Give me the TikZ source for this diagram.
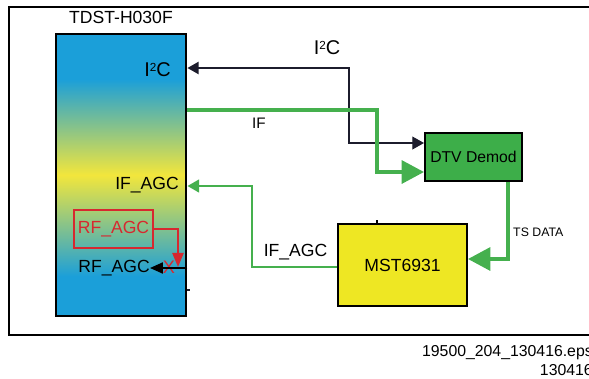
\documentclass[tikz,border=0pt]{standalone}
\usepackage{fontspec}
\setmainfont{Liberation Sans}
\usetikzlibrary{arrows.meta, positioning}
\definecolor{tunerBlue}{HTML}{1B9FD9}
\definecolor{tunerYellow}{HTML}{F2E63C}
\definecolor{demodGreen}{HTML}{3DAE49}
\definecolor{lineGreen}{HTML}{45B04E}
\definecolor{mstYellow}{HTML}{EEE723}
\definecolor{agcRed}{HTML}{D7282F}
\definecolor{busDark}{HTML}{1C1C2C}
\pgfdeclareverticalshading{tunershade}{100bp}{color(0bp)=(tunerBlue); color(32bp)=(tunerBlue);
  color(50bp)=(tunerYellow); color(67bp)=(tunerBlue); color(100bp)=(tunerBlue)}
\newcommand{\itwoc}{I\raisebox{4.5pt}{\fontsize{10}{10}\selectfont 2}C}

\begin{document}
\begin{tikzpicture}[x=0.03cm, y=-0.03cm,
    tuner/.style={rectangle, draw=black, line width=2.5pt, shading=tunershade,
                  minimum width=3.9cm, minimum height=8.46cm},
    chip/.style={rectangle, draw=black, line width=1.7pt, minimum width=#1},
    portlbl/.style={inner sep=0pt, font=\fontsize{15}{18}\selectfont},
    siglbl/.style={inner sep=0pt, font=\fontsize{15}{18}\selectfont},
    busline/.style={draw=busDark, line width=1.1pt},
    thickgreen/.style={draw=lineGreen, line width=3pt},
    thingreen/.style={draw=lineGreen, line width=1.7pt},
  ]
    \useasboundingbox (0,0) rectangle (589,378);
    % outer frame, open on the right
    \draw[line width=1.7pt] (600,7) -- (9,7) -- (9,335) -- (600,335);

    \node[tuner] (tuner) at (121,175) {};
    \node[siglbl, above=7pt of tuner] (title) {TDST-H030F};

    \node[portlbl, font=\fontsize{17}{20}\selectfont, anchor=east] (i2clbl) at (171,70) {\itwoc};
    \node[portlbl, anchor=east] (ifagclbl) at (179,185) {IF\_AGC};
    \node[rectangle, draw=agcRed, line width=1.7pt, minimum width=2.37cm, minimum height=1.14cm,
          text=agcRed, font=\fontsize{15}{18}\selectfont, inner sep=1pt] (rfbox) at (113.5,229) {RF\_AGC};
    \node[portlbl, anchor=east] (rfagclbl) at (150,268) {RF\_AGC};
    \node[portlbl, text=agcRed, font=\fontsize{15.5}{18}\selectfont] (rfx) at (169,267) {X};

    \node[chip=2.91cm, minimum height=1.44cm, fill=demodGreen,
          font=\fontsize{13.4}{16}\selectfont] (dtv) at (473.5,157) {DTV Demod};
    \node[chip=3.87cm, minimum height=2.46cm, fill=mstYellow,
          font=\fontsize{15}{18}\selectfont] (mst) at (402.5,265) {MST6931};

    \coordinate (i2cbend) at (349,68);
    \coordinate (ifbend) at (377,110);
    \coordinate (agcbend) at (252,186);
    \coordinate (rfend) at (178,267);

    % I2C bus
    \draw[busline, {Triangle[length=9.5pt, width=10.5pt]}-{Triangle[length=10pt, width=11pt]}]
      (tuner.east |- i2cbend) -- (i2cbend) |- (dtv.west |- 0,143);
    \node[portlbl, font=\fontsize{17}{20}\selectfont] (i2ctop) at (327,48) {\itwoc};

    % IF
    \draw[thickgreen, -{Triangle[length=19pt, width=19.5pt]}]
      (tuner.east |- ifbend) -- (ifbend) |- (dtv.west |- 0,172);
    \node[portlbl, font=\fontsize{13}{16}\selectfont] (iflbl) at (259,123) {IF};

    % TS data
    \draw[thickgreen, -{Triangle[length=19pt, width=19.5pt]}]
      (dtv.south -| 508,0) |- (mst.east |- 0,259);
    \node[portlbl, font=\fontsize{10.5}{12}\selectfont, anchor=west] (tslbl) at (513,232) {TS DATA};

    % IF_AGC
    \draw[thingreen, -{Triangle[length=10pt, width=11pt]}]
      (mst.west |- 0,267) -| (agcbend) -- (tuner.east |- agcbend);
    \node[siglbl] (agclbl) at (295.5,252) {IF\_AGC};

    % RF_AGC
    \draw[draw=agcRed, line width=1.7pt, -{Triangle[length=12pt, width=9.5pt]}]
      (rfbox.east) -| (rfend);
    \draw[line width=1.3pt, -{Triangle[length=11pt, width=9.5pt]}]
      (tuner.east |- rfagclbl) -- (rfagclbl.east);

    % stray ticks
    \draw[busDark, line width=1.5pt] (187,290) -- (190,290);
    \draw[line width=1.5pt] (377,220) -- (377,224);

    \node[inner sep=0pt, anchor=north east, align=right,
          font=\fontsize{13.5}{16}\selectfont] (fname) at (593,345) {19500\_204\_130416.eps\\130416};
  \end{tikzpicture}
\end{document}
